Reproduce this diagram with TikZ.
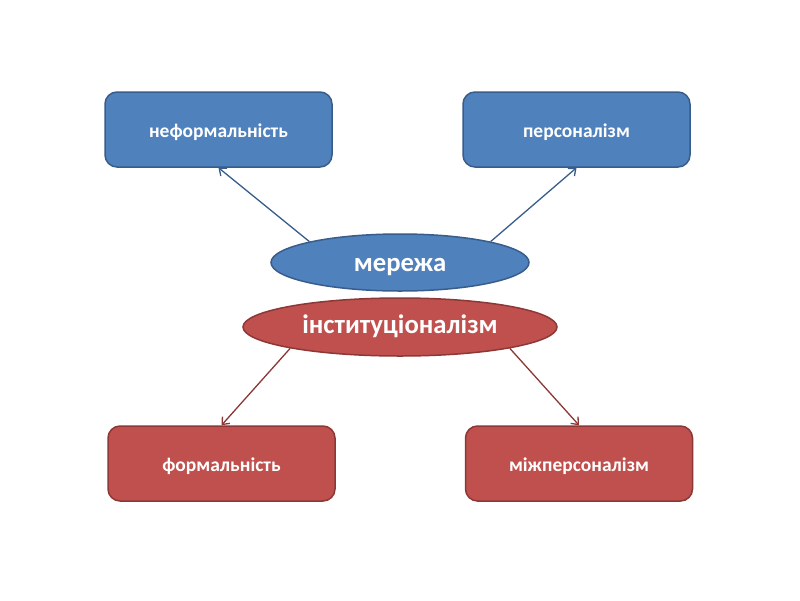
\documentclass[tikz,border=0pt]{standalone}
\usepackage{fontspec}
\setmainfont{Carlito}
\usetikzlibrary{shapes.geometric,arrows.meta}
\definecolor{bfill}{HTML}{4F81BD}
\definecolor{bline}{HTML}{385D8A}
\definecolor{rfill}{HTML}{C0504D}
\definecolor{rline}{HTML}{8C3836}
\newcommand{\lowtext}[2]{\raisebox{-#1}[0pt][0pt]{#2}}
\tikzset{
  box/.style={rectangle, rounded corners=12pt, minimum width=227pt, minimum height=75pt, inner sep=0pt, line width=1.5pt, text=white, font=\fontsize{19.5}{22}\selectfont\bfseries},
  bluebox/.style={box, fill=bfill, draw=bline},
  redbox/.style={box, fill=rfill, draw=rline},
  oval/.style={ellipse, inner sep=0pt, line width=1.5pt, text=white, font=\fontsize{26.7}{30}\selectfont\bfseries},
  conn/.style={line width=1.3pt, -{Straight Barb[length=6pt,width=10pt]}},
}
\begin{document}
\begin{tikzpicture}[x=1pt,y=-1pt]
\useasboundingbox (0,0) rectangle (800,600);
\fill[white] (0,0) rectangle (800,600);
\node[bluebox] (nl) at (218.5,129.5) {\lowtext{7.5pt}{неформальність}};
\node[bluebox] (nr) at (576.5,129.5) {\lowtext{7.5pt}{персоналізм}};
\node[redbox] (bl) at (221.5,463.5) {\lowtext{7.5pt}{формальність}};
\node[redbox] (br) at (579,463.5) {\lowtext{7.5pt}{міжперсоналізм}};
\node[oval, fill=bfill, draw=bline, minimum width=258pt, minimum height=57pt] (m) at (400,262.5) {\lowtext{8.7pt}{мережа}};
\node[oval, fill=rfill, draw=rline, minimum width=314pt, minimum height=58pt] (i) at (400,327) {\lowtext{6.5pt}{інституціоналізм}};
\draw[conn, bline] (m.167) -- (nl.south);
\draw[conn, bline] (m.13) -- (nr.south);
\draw[conn, rline] (i.191) -- (bl.north);
\draw[conn, rline] (i.349) -- (br.north);
\end{tikzpicture}
\end{document}
